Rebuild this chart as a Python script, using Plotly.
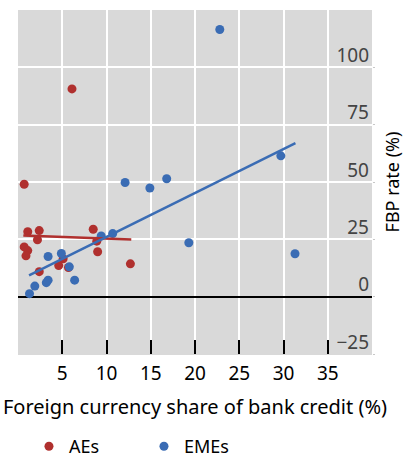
import plotly.graph_objects as go

# foreign currency share of bank credit (%) vs FBP rate (%)
ae_x = [6.1, 0.7, 1.1, 2.4, 2.2, 0.7, 1.1, 0.9, 2.4, 5.1, 4.6, 5.7, 8.5, 8.9, 9.0, 12.7]
ae_y = [90.6, 49.0, 28.3, 28.8, 24.8, 21.7, 20.1, 17.8, 10.9, 16.5, 13.6, 12.7, 29.4, 24.2, 19.6, 14.3]
eme_x = [12.1, 14.9, 16.8, 22.8, 29.7, 19.3, 31.3, 1.3, 1.9, 3.2, 3.4, 3.4, 4.9, 5.8, 6.4, 9.4, 10.7]
eme_y = [49.8, 47.4, 51.4, 116.5, 61.4, 23.5, 18.7, 1.3, 4.6, 6.1, 7.2, 17.5, 18.8, 13.0, 7.2, 26.5, 27.5]

# fitted lines (end points)
ae_fit_x = [0.6, 12.8]
ae_fit_y = [26.7, 24.9]
eme_fit_x = [1.25, 31.35]
eme_fit_y = [9.3, 66.9]

x_ticks = [0, 5, 10, 15, 20, 25, 30, 35]
x_labels = ["", "5", "10", "15", "20", "25", "30", "35"]
y_ticks = [-25, 0, 25, 50, 75, 100]

red = "#b0302e"
blue = "#3a6cb4"
font = "Noto Sans"

fig = go.Figure()
fig.add_trace(go.Scatter(x=ae_x, y=ae_y, mode="markers", name="AEs",
                         marker=dict(color=red, size=9)))
fig.add_trace(go.Scatter(x=eme_x, y=eme_y, mode="markers", name="EMEs",
                         marker=dict(color=blue, size=9)))
fig.add_trace(go.Scatter(x=ae_fit_x, y=ae_fit_y, mode="lines", showlegend=False,
                         line=dict(color=red, width=2.5)))
fig.add_trace(go.Scatter(x=eme_fit_x, y=eme_fit_y, mode="lines", showlegend=False,
                         line=dict(color=blue, width=2.5)))

fig.update_layout(
    width=404, height=465,
    margin=dict(l=18, r=32, t=10, b=111, autoexpand=False),
    plot_bgcolor="#d9d9d9", paper_bgcolor="white",
    font=dict(family=font, size=17, color="black"),
    legend=dict(orientation="h", x=0.031, y=0.0, yref="container",
                xanchor="left", yanchor="bottom",
                font=dict(size=18), entrywidth=70),
    xaxis=dict(range=[0, 40], tickvals=x_ticks, ticktext=x_labels, automargin=False,
               showgrid=True, gridcolor="white", gridwidth=2,
               ticks="inside", ticklen=14, tickwidth=1.5, tickcolor="black",
               ticklabelstandoff=2, tickfont=dict(size=19),
               zeroline=False, showline=True, linecolor="#d9d9d9", linewidth=1,
               title=dict(text="Foreign currency share of bank credit (%)", standoff=15)),
    yaxis=dict(range=[-25, 125], tickvals=y_ticks, side="right", automargin=False,
               ticklabelposition="inside", ticklabelshift=-12, ticklabeloverflow="allow",
               tickfont=dict(size=19),
               showgrid=True, gridcolor="white", gridwidth=2,
               zeroline=True, zerolinecolor="black", zerolinewidth=1.5,
               ticks="outside", ticklen=2, tickcolor="#c8c8c8", showline=False,
               title=dict(text="FBP rate (%)", standoff=20, font=dict(size=18))),
)

# drop the default body margin so the figure sits at the page corner
fig.write_html("out.html", config={"displayModeBar": False},
               post_script="document.body.style.margin='0';")
